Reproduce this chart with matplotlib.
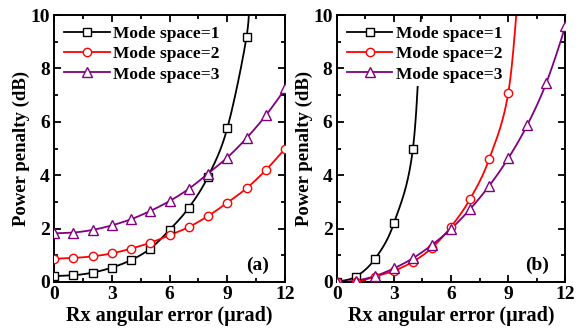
import numpy as np
import matplotlib
matplotlib.use("Agg")
import matplotlib.pyplot as plt
from matplotlib.ticker import MultipleLocator

plt.rcParams["font.family"] = ["Liberation Serif", "DejaVu Serif"]
plt.rcParams["font.weight"] = "bold"

labels = ["Mode space=1", "Mode space=2", "Mode space=3"]
colors = ["black", "red", "#800080"]
markers = ["s", "o", "^"]

# panel (a)
xa = [0, 1, 2, 3, 4, 5, 6, 7, 8, 9, 10, 11, 12]
a_mode1 = [0.22, 0.25, 0.35, 0.54, 0.82, 1.25, 1.95, 2.78, 3.95, 5.76, 9.19]
a_mode2 = [0.87, 0.90, 0.96, 1.07, 1.25, 1.47, 1.75, 2.06, 2.47, 2.97, 3.51, 4.19, 4.99]
a_mode3 = [1.82, 1.85, 1.95, 2.12, 2.35, 2.66, 3.03, 3.49, 4.06, 4.66, 5.39, 6.24, 7.25]

# panel (b)
xb = [0, 1, 2, 3, 4, 5, 6, 7, 8, 9, 10, 11, 12]
b_mode1 = [0.0, 0.20, 0.86, 2.20, 5.00]
b_mode2 = [0.0, 0.0, 0.20, 0.42, 0.76, 1.28, 2.07, 3.11, 4.60, 7.07]
b_mode3 = [0.0, 0.05, 0.22, 0.51, 0.89, 1.39, 1.99, 2.73, 3.60, 4.63, 5.88, 7.46, 9.60]

# where the fitted curves leave the plot
a_tail = [(10.15, 11.0), None, (12.2, 7.7)]
b_tail = [(4.5, 11.0), (9.6, 11.5), (12.2, 10.4)]


def smooth(x, y, n=20):
    # catmull-rom through the points, just for drawing the line
    x = np.asarray(x, float)
    y = np.asarray(y, float)
    px = np.concatenate([[2 * x[0] - x[1]], x, [2 * x[-1] - x[-2]]])
    py = np.concatenate([[2 * y[0] - y[1]], y, [2 * y[-1] - y[-2]]])
    xs, ys = [], []
    t = np.linspace(0, 1, n, endpoint=False)
    for i in range(1, len(px) - 2):
        for p, out in ((px, xs), (py, ys)):
            p0, p1, p2, p3 = p[i - 1], p[i], p[i + 1], p[i + 2]
            out.extend(0.5 * (2 * p1 + (-p0 + p2) * t
                              + (2 * p0 - 5 * p1 + 4 * p2 - p3) * t ** 2
                              + (-p0 + 3 * p1 - 3 * p2 + p3) * t ** 3))
    xs.append(x[-1])
    ys.append(y[-1])
    return np.array(xs), np.array(ys)


def panel(ax, x, series, tails, tag):
    for y, tail, lab, c, m in zip(series, tails, labels, colors, markers):
        xx = list(x[:len(y)])
        yy = list(y)
        if tail is not None:
            xx.append(tail[0])
            yy.append(tail[1])
        sx, sy = smooth(xx, yy)
        ms = 7 if m == "^" else 6
        ax.plot(sx, sy, color=c, lw=1.3, zorder=2)
        ax.plot(x[:len(y)], y, ls="none", marker=m, ms=ms,
                mfc="white", mec=c, mew=1.0, zorder=3)
        ax.plot([], [], color=c, lw=1.3, marker=m, ms=ms,
                mfc="white", mec=c, mew=1.0, label=lab)
    ax.set_xlim(0, 12)
    ax.set_ylim(0, 10)
    ax.xaxis.set_major_locator(MultipleLocator(3))
    ax.xaxis.set_minor_locator(MultipleLocator(1.5))
    ax.yaxis.set_major_locator(MultipleLocator(2))
    ax.yaxis.set_minor_locator(MultipleLocator(1))
    ax.tick_params(which="both", direction="in", top=True, right=True,
                   labelsize=14, width=1.3, pad=3)
    ax.tick_params(which="major", length=5)
    ax.tick_params(which="minor", length=3)
    for s in ax.spines.values():
        s.set_linewidth(1.4)
    ax.set_xlabel("Rx angular error (\u03bcrad)", fontsize=14.5, fontweight="bold", labelpad=2)
    ax.set_ylabel("Power penalty (dB)", fontsize=13.5, fontweight="bold", labelpad=0)
    leg = ax.legend(loc="upper left", fontsize=12.5, handlelength=2.6,
                    handletextpad=0.2, labelspacing=0.25, borderaxespad=0.4,
                    framealpha=1, fancybox=False, borderpad=0.2)
    leg.get_frame().set_edgecolor("none")
    leg.set_zorder(5)
    ax.text(0.93, 0.064, tag, transform=ax.transAxes, ha="right", va="center",
            fontsize=14, fontweight="bold")


fig = plt.figure(figsize=(5.82, 3.30), dpi=100)
ax1 = fig.add_axes([0.0928, 0.1455, 0.397, 0.809])
ax2 = fig.add_axes([0.5785, 0.1455, 0.393, 0.809])

panel(ax1, xa, [a_mode1, a_mode2, a_mode3], a_tail, "(a)")
panel(ax2, xb, [b_mode1, b_mode2, b_mode3], b_tail, "(b)")

fig.savefig("out.png", dpi=100)
